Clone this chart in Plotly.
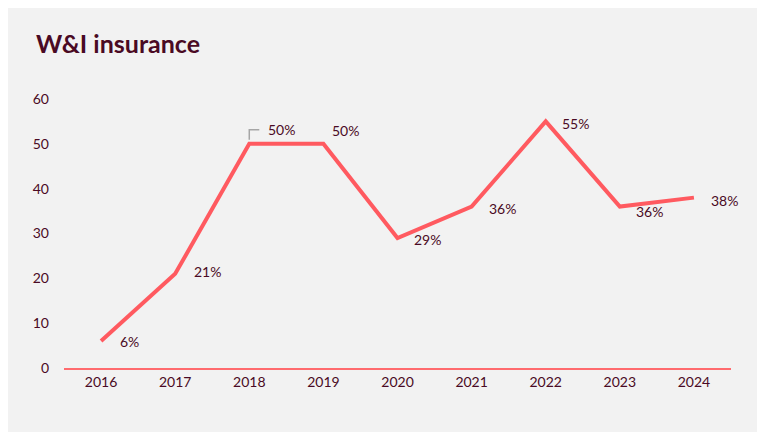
import plotly.graph_objects as go

years = ["2016", "2017", "2018", "2019", "2020", "2021", "2022", "2023", "2024"]
values = [6, 21, 50, 50, 29, 36, 55, 36, 38]
y_ticks = [0, 10, 20, 30, 40, 50, 60]

# label offsets in pixels (layout only)
label_dx = [28, 32, 32, 22, 30, 31, 30, 30, 31]
label_dy = [0, 2, 14, 13, -2, -2, -2, -5, -3]

MAROON = "#4a0a24"
LINE = "#ff5a60"
FONT = "Lato"

fig = go.Figure()
fig.add_trace(go.Scatter(
    x=years, y=values, mode="lines",
    line=dict(color=LINE, width=4, shape="linear"),
    hoverinfo="skip", showlegend=False,
))

ann = []
for i, (v, dx, dy) in enumerate(zip(values, label_dx, label_dy)):
    ann.append(dict(x=i, y=v, xref="x", yref="y", text=f"{v}%", showarrow=False,
                    xanchor="center", yanchor="middle", xshift=dx, yshift=dy,
                    font=dict(family=FONT, size=14, color=MAROON)))

ann.append(dict(x=0, y=1, xref="paper", yref="paper", text="<b>W&I insurance</b>",
                showarrow=False, xanchor="left", yanchor="bottom", xshift=-30, yshift=39,
                font=dict(family=FONT, size=25, color=MAROON)))

W, H = 757, 425
ml, mr, mt, mb = 56, 34, 91, 65
pw, ph = W - ml - mr, H - mt - mb

shapes = [
    dict(type="rect", xref="paper", yref="paper", layer="below",
         x0=(0 - ml) / pw, x1=(755 - ml) / pw,
         y0=(H - mb - 424) / ph, y1=(H - mb - 0) / ph,
         fillcolor="#f2f2f2", line=dict(width=0)),
    dict(type="path", xref="x", yref="y", xsizemode="pixel", ysizemode="pixel",
         xanchor=2, yanchor=values[2],
         path="M0,4 L0,14 L10,14", line=dict(color="#a6a6a6", width=1.5)),
]

fig.update_layout(
    width=W, height=H,
    margin=dict(l=ml, r=mr, t=mt, b=mb),
    paper_bgcolor="white", plot_bgcolor="rgba(0,0,0,0)",
    annotations=ann, shapes=shapes,
    font=dict(family=FONT, size=14, color=MAROON),
    xaxis=dict(type="category", range=[-0.5, 8.5], showgrid=False, zeroline=False,
               showline=True, linecolor="#ff6b6e", linewidth=1.5, ticks="",
               tickfont=dict(family=FONT, size=14, color=MAROON), fixedrange=True),
    yaxis=dict(range=[0, 60], tickvals=y_ticks, showgrid=False, zeroline=False,
               showline=False, ticks="", ticklabelstandoff=14,
               tickfont=dict(family=FONT, size=14, color=MAROON), fixedrange=True),
)

fig.write_html("out.html")
